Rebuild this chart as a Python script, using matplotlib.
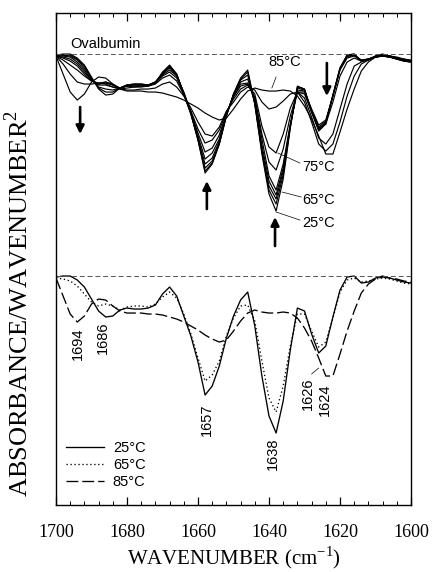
import numpy as np
import matplotlib
matplotlib.use("Agg")
import matplotlib.pyplot as plt
from matplotlib.ticker import MultipleLocator

# wavenumber grid (cm-1), 2 cm-1 steps from 1700 down to 1600
wn = np.arange(1700, 1599, -2)

# second-derivative spectra (arbitrary units)
spec_25 = [-1, 0, 0, -4, -11, -23, -35, -41, -40, -34, -32, -33, -33, -32, -29, -18, -11, -20, -40, -60,
           -86, -119, -110, -90, -62, -40, -24, -16, -50, -100, -140, -157, -125, -74, -32, -35, -58, -77, -70, -41,
           -14, -1, 0, -7, -6, -2, 0, -2, -4, -6, -7]
spec_35 = [-1, -1, -1, -5, -12, -24, -34, -38, -38, -34, -32, -32, -32, -32, -29, -19, -12, -20, -40, -60,
           -86, -117, -109, -90, -62, -40, -25, -18, -50, -98, -136, -150, -121, -73, -33, -35, -58, -76, -69, -41,
           -14, -1, 0, -7, -6, -2, -1, -2, -4, -6, -7]
spec_45 = [-1, -1, -2, -6, -14, -25, -33, -35, -36, -34, -31, -31, -31, -31, -28, -19, -13, -21, -39, -59,
           -85, -114, -107, -89, -61, -41, -26, -21, -49, -95, -132, -145, -117, -72, -34, -36, -57, -75, -68, -42,
           -15, -2, -1, -7, -5, -2, -1, -2, -4, -6, -7]
spec_55 = [-2, -2, -3, -8, -16, -26, -31, -31, -33, -34, -31, -30, -30, -31, -28, -20, -14, -21, -39, -59,
           -84, -110, -104, -87, -61, -41, -28, -25, -48, -91, -127, -141, -114, -71, -36, -37, -56, -73, -67, -42,
           -15, -3, -1, -6, -5, -3, -2, -3, -5, -7, -8]
spec_65 = [-2, -3, -5, -10, -18, -26, -30, -28, -30, -34, -31, -30, -30, -31, -28, -21, -16, -22, -38, -58,
           -82, -105, -99, -85, -60, -42, -30, -29, -45, -85, -122, -136, -110, -70, -38, -38, -55, -71, -66, -42,
           -16, -4, -2, -6, -5, -3, -2, -3, -5, -7, -8]
spec_70 = [-2, -4, -7, -12, -20, -27, -30, -29, -31, -34, -32, -31, -31, -31, -29, -22, -18, -24, -40, -58,
           -79, -98, -94, -81, -59, -43, -32, -30, -43, -80, -108, -116, -95, -62, -38, -40, -58, -74, -70, -48,
           -22, -8, -4, -7, -5, -3, -2, -3, -5, -7, -8]
spec_75 = [-2, -6, -11, -16, -22, -27, -29, -30, -33, -35, -34, -33, -32, -32, -30, -24, -21, -27, -41, -57,
           -75, -89, -86, -76, -58, -45, -35, -31, -40, -72, -93, -99, -80, -54, -38, -44, -63, -84, -90, -80,
           -55, -30, -12, -8, -5, -3, -2, -3, -4, -6, -7]
spec_80 = [-2, -10, -20, -28, -30, -30, -29, -28, -31, -35, -36, -36, -35, -35, -34, -30, -28, -33, -42, -54,
           -68, -80, -82, -73, -57, -48, -38, -33, -36, -48, -55, -53, -47, -40, -38, -48, -68, -90, -97, -90,
           -68, -42, -22, -10, -6, -3, -1, -2, -4, -5, -7]
spec_85 = [-2, -20, -38, -46, -40, -28, -23, -24, -30, -35, -37, -37, -37, -38, -38, -39, -41, -43, -46, -50,
           -54, -59, -63, -66, -64, -55, -45, -37, -34, -36, -37, -37, -36, -37, -42, -52, -65, -82, -100, -100,
           -78, -55, -35, -17, -8, -3, -1, -2, -3, -5, -6]

top_specs = [spec_25, spec_35, spec_45, spec_55, spec_65, spec_70, spec_75, spec_80, spec_85]
bottom_specs = [spec_25, spec_65, spec_85]
bottom_labels = ["25°C", "65°C", "85°C"]
bottom_styles = ["-", (0, (1, 2)), (0, (9, 3))]

peak_labels = ["1694", "1686", "1657", "1638", "1626", "1624"]

SHIFT = -222  # vertical offset of the lower set of spectra

plt.rcParams["font.family"] = ["Liberation Sans", "DejaVu Sans"]
fig = plt.figure(figsize=(4.32, 5.72), dpi=100)
ax = fig.add_axes([0.1296, 0.1171, 0.8218, 0.8601])

# top: all temperatures
for s in top_specs:
    ax.plot(wn, s, color="k", lw=0.85)
ax.axhline(0, color="#555555", lw=0.7, ls=(0, (5, 3)))

# bottom: three selected temperatures
for s, lab, ls in zip(bottom_specs, bottom_labels, bottom_styles):
    ax.plot(wn, np.array(s) + SHIFT, color="k", lw=0.95, ls=ls, label=lab)
ax.axhline(SHIFT, color="#555555", lw=0.7, ls=(0, (5, 3)))

ax.text(1696, 10, "Ovalbumin", fontsize=10.5, va="center")

# arrows in the upper set
arr = dict(arrowstyle="-|>", lw=1.9, color="k", mutation_scale=12, shrinkA=0, shrinkB=0)
ax.annotate("", xy=(1693.2, -80), xytext=(1693.2, -53), arrowprops=arr)
ax.annotate("", xy=(1657.5, -127), xytext=(1657.5, -155), arrowprops=arr)
ax.annotate("", xy=(1638.3, -163), xytext=(1638.3, -192), arrowprops=arr)
ax.annotate("", xy=(1623.7, -42), xytext=(1623.7, -9), arrowprops=arr)

# temperature labels with leader lines
ax.text(1640.3, -8, "85°C", fontsize=10.5, va="center")
ax.plot([1638.0, 1639.2], [-23, -34], color="k", lw=0.5)
for t, ytxt, p0, p1 in [("75°C", -113, (1637.5, -99), (1631.3, -109)),
                        ("65°C", -146, (1636.3, -138), (1630.9, -143)),
                        ("25°C", -169, (1638.0, -158), (1631.3, -166))]:
    ax.text(1630.7, ytxt, t, fontsize=10.5, va="center")
    ax.plot([p0[0], p1[0]], [p0[1], p1[1]], color="k", lw=0.5)

# peak positions in the lower set
for lab, x, y in zip(peak_labels, [1693.8, 1686.8, 1657.5, 1638.9, 1629.0, 1624.2],
                     [-290, -284, -366, -400, -340, -346]):
    ax.text(x, y, lab, fontsize=10.5, rotation=90, ha="center", va="center")
ax.plot([1628.0, 1626.0], [-320, -314], color="k", lw=0.5)

leg = ax.legend(loc="lower left", bbox_to_anchor=(0.0, 0.012), frameon=False, fontsize=10.5,
                handlelength=2.6, labelspacing=0.2, handletextpad=0.6, borderaxespad=0.3)

ax.set_xlim(1700, 1600)
ax.set_ylim(-451, 41)
ax.set_yticks([])
ax.xaxis.set_major_locator(MultipleLocator(20))
ax.xaxis.set_minor_locator(MultipleLocator(4))
ax.tick_params(axis="x", which="both", direction="in", top=True)
ax.tick_params(axis="x", which="major", length=6, width=0.9, pad=14)
ax.tick_params(axis="x", which="minor", length=3, width=0.7)
for sp in ax.spines.values():
    sp.set_linewidth(1.0)

for lbl in ax.get_xticklabels():
    lbl.set_fontfamily("Liberation Serif")
    lbl.set_fontsize(13)
ax.set_xlabel("WAVENUMBER (cm$^{\\mathregular{-1}}$)", fontfamily="Liberation Serif", fontsize=15, labelpad=2)
ax.set_ylabel("ABSORBANCE/WAVENUMBER$^{\\mathregular{2}}$", fontfamily="Liberation Serif", fontsize=19)
ax.yaxis.set_label_coords(-0.065, 0.41)

fig.savefig("out.png", dpi=100)
